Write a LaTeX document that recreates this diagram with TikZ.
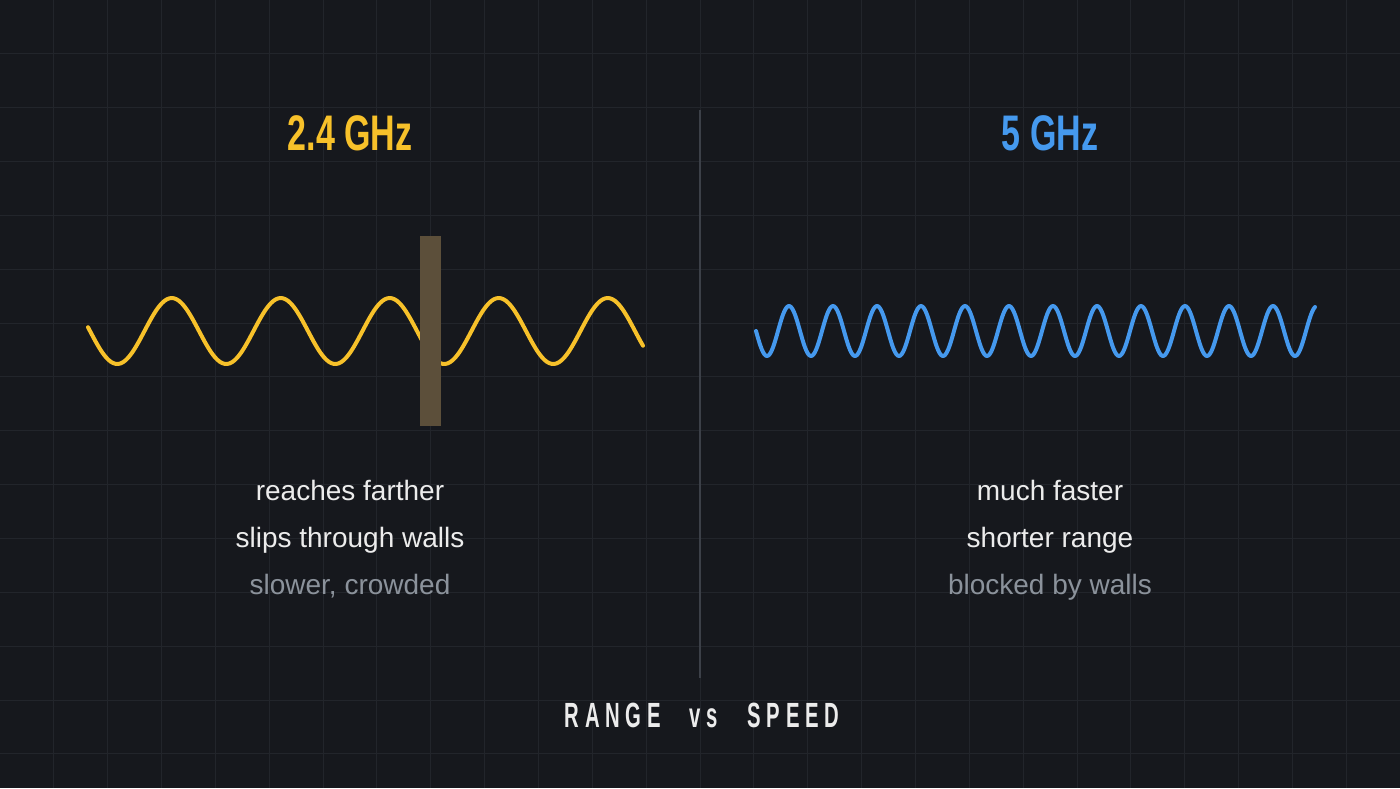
\documentclass[tikz,border=0pt]{standalone}
\usepackage{fontspec}
\setmainfont{Liberation Sans}
\newfontfamily\condfont[FakeStretch=0.68]{Liberation Sans}
\newfontfamily\spacedfont[FakeStretch=0.58,LetterSpace=16]{Liberation Sans}

\definecolor{bgdark}{HTML}{16181D}
\definecolor{gridline}{HTML}{22252B}
\definecolor{divider}{HTML}{3C4048}
\definecolor{lowband}{HTML}{F7C12A}
\definecolor{highband}{HTML}{4599EE}
\definecolor{wallbrown}{HTML}{5C4F3A}
\definecolor{plaintext}{HTML}{ECECEC}
\definecolor{dimtext}{HTML}{8B929B}

\begin{document}
\begin{tikzpicture}[x=1pt, y=-1pt]
	\tikzstyle{every node}=[inner sep=0pt, anchor=base]
	\tikzstyle{title}=[font=\condfont\bfseries\fontsize{50}{50}\selectfont]
	\tikzstyle{remark}=[font=\fontsize{28}{28}\selectfont, text=plaintext]
	\tikzstyle{wave}=[line width=4pt, line cap=round, line join=round]

	% background and grid
	\fill[bgdark] (0, 0) rectangle (1400, 788);
	\useasboundingbox (0, 0) rectangle (1400, 788);
	\foreach \k in {1,...,25} \draw[gridline, line width=1pt] ({53.85*\k}, 0)--({53.85*\k}, 788);
	\foreach \k in {1,...,14} \draw[gridline, line width=1pt] (0, {53.85*\k})--(1400, {53.85*\k});

	% divider
	\coordinate (Div_Top) at (700, 110);
	\coordinate (Div_Bot) at (700, 678);
	\draw[divider, line width=1.5pt] (Div_Top)--(Div_Bot);

	% titles
	\node[title, text=lowband](Low_Title) at (350, 150) {2.4 GHz};
	\node[title, text=highband](High_Title) at (1050, 150) {5 GHz};

	% 2.4 GHz wave
	\draw[wave, lowband] plot[domain=88:643, samples=220, smooth] (\x, {331+33*sin(3.3028*(\x-90))});

	% wall
	\node[fill=wallbrown, minimum width=21pt, minimum height=190pt, anchor=center](Wall) at (430.5, 331) {};

	% 5 GHz wave
	\draw[wave, highband] plot[domain=756:1315, samples=400, smooth] (\x, {331+25*sin(8.1818*(\x-756))});

	% remarks
	\node[remark](Low_A) at (350, 500) {reaches farther};
	\node[remark](Low_B) at (350, 547) {slips through walls};
	\node[remark, text=dimtext](Low_C) at (350, 594) {slower, crowded};
	\node[remark](High_A) at (1050, 500) {much faster};
	\node[remark](High_B) at (1050, 547) {shorter range};
	\node[remark, text=dimtext](High_C) at (1050, 594) {blocked by walls};

	% caption
	\node[font=\spacedfont\bfseries\fontsize{35}{35}\selectfont, text=plaintext](Caption) at (702, 727) {RANGE\hspace{29pt}vs\hspace{30pt}SPEED};
\end{tikzpicture}
\end{document}
